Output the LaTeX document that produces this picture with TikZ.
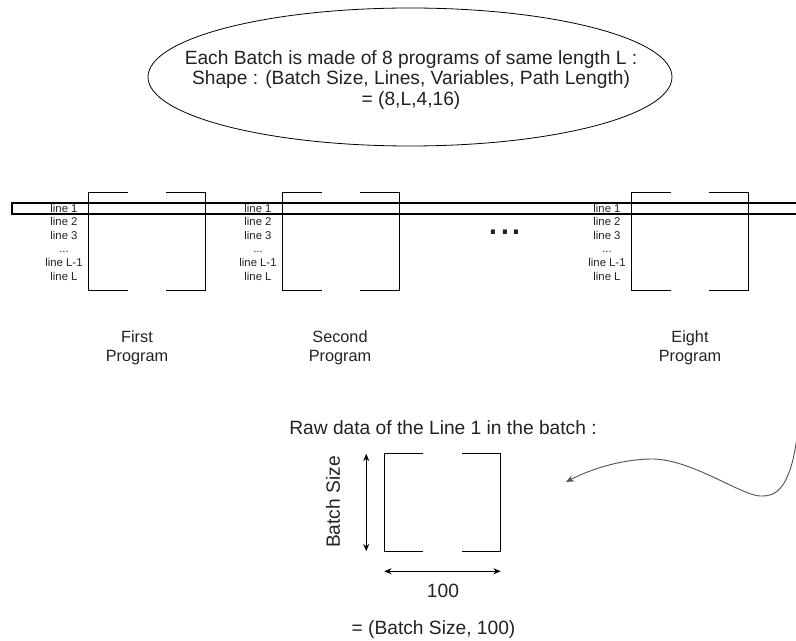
\documentclass[tikz,border=0pt]{standalone}
\usepackage{fontspec}
\setmainfont{Liberation Sans}
\usetikzlibrary{arrows.meta,shapes.geometric}
\definecolor{txt}{HTML}{222222}
\definecolor{curvecol}{HTML}{555555}
\begin{document}
\begin{tikzpicture}[x=0.75pt,y=-0.75pt,
  every node/.style={text=txt, inner sep=0pt},
  ln/.style={draw=black, line width=0.8pt},
  big/.style={font=\fontsize{14.4}{15.4}\selectfont, align=center},
  lab/.style={font=\fontsize{12.2}{14.3}\selectfont, align=center},
  small/.style={font=\fontsize{8.5}{10.2}\selectfont, align=center},
  arr/.style={line width=0.8pt, {Stealth[length=5.5pt,width=4.5pt]}-{Stealth[length=5.5pt,width=4.5pt]}},
  mat/.style={minimum width=87pt, minimum height=72.75pt}
]
\useasboundingbox (0,0) rectangle (796,641);

% title ellipse
\node[draw, ellipse, line width=0.6pt, minimum width=393pt, minimum height=103.5pt] (e) at (410,77) {};
\node[big] (etext) at (411,80) {Each Batch is made of 8 programs of same length L :\\Shape : (Batch Size, Lines, Variables, Path Length)\\= (8,L,4,16)};

% program matrices
\node[mat] (p1) at (147,241.5) {};
\node[mat] (p2) at (341,241.5) {};
\node[mat] (p3) at (690,241.5) {};
\node[mat] (raw) at (442.5,502.5) {};

\foreach \n in {p1,p2,p3,raw} {
  \draw[ln] ([xshift=29.25pt]\n.north west) -- (\n.north west) -- (\n.south west) -- ([xshift=29.25pt]\n.south west);
  \draw[ln] ([xshift=-29.25pt]\n.north east) -- (\n.north east) -- (\n.south east) -- ([xshift=-29.25pt]\n.south east);
}

% line lists
\node[small] (l1) at (64,242) {line 1\\line 2\\line 3\\...\\line L-1\\line L};
\node[small] (l2) at (258,242) {line 1\\line 2\\line 3\\...\\line L-1\\line L};
\node[small] (l3) at (607,242) {line 1\\line 2\\line 3\\...\\line L-1\\line L};

% band around line 1
\coordinate (bt) at (796,203);
\coordinate (btl) at (12,203);
\coordinate (bbl) at (12,214);
\coordinate (bb) at (796,214);
\draw[ln] (bt) -- (btl) -- (bbl) -- (bb);

% dots
\node[font=\fontsize{32}{32}\selectfont, anchor=base] (dots) at (505,235) {...};

% program labels
\node[lab] (n1) at (137,348) {First\\Program};
\node[lab] (n2) at (340,348) {Second\\Program};
\node[lab] (n3) at (690,348) {Eight\\Program};

% raw data
\node[big] (rawt) at (443,428) {Raw data of the Line 1 in the batch :};
\draw[arr] ([xshift=-13.5pt]raw.north west) -- ([xshift=-13.5pt]raw.south west);
\node[big, rotate=90] (bs) at (333,502) {Batch Size};
\draw[arr] ([yshift=-15pt]raw.south west) -- ([yshift=-15pt]raw.south east);
\node[big] (hund) at (443,591) {100};
\node[big] (res) at (433.5,630) {= (Batch Size, 100)};

% curved arrow
\coordinate (c0) at (797,437);
\coordinate (tip) at (566,482);
\draw[line width=0.7pt, draw=curvecol, -{Stealth[length=6pt,width=5pt]}] (c0) .. controls (790,490) and (775,497) .. (760,496) .. controls (740,495) and (690,458) .. (650,459) .. controls (615,460) and (585,472) .. (tip);
\end{tikzpicture}
\end{document}
